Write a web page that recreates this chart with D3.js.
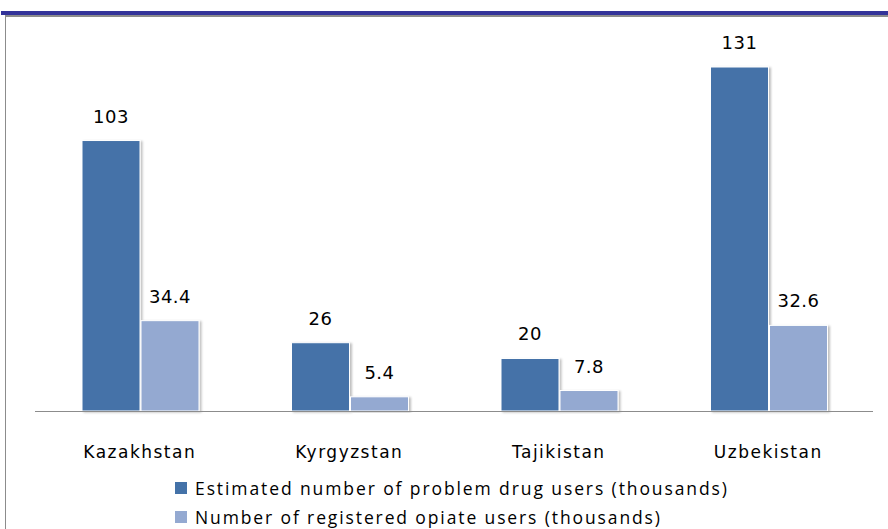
<!DOCTYPE html>
<html>
<head>
  <meta charset="UTF-8">
  <title>Drug users in Central Asia</title>
  <script src="https://d3js.org/d3.v7.min.js"></script>
  <style>
    body { margin: 0; background: #fff; }
    .val { font-family: "DejaVu Sans", sans-serif; font-size: 18px; fill: #000; letter-spacing: 0.5px; }
    .cat { font-family: "DejaVu Sans", sans-serif; font-size: 17px; fill: #000; letter-spacing: 1.5px; }
    .leg { font-family: "Open Sans", sans-serif; font-size: 17.5px; fill: #000; }
  </style>
</head>
<body>
  <div id="chart"></div>
  <script>
    // data
    var countries = ["Kazakhstan", "Kyrgyzstan", "Tajikistan", "Uzbekistan"];
    var seriesNames = ["Estimated number of problem drug users (thousands)",
                       "Number of registered opiate users (thousands)"];
    var estimated = [103, 26, 20, 131];
    var registered = [34.4, 5.4, 7.8, 32.6];
    var labelsEst = ["103", "26", "20", "131"];
    var labelsReg = ["34.4", "5.4", "7.8", "32.6"];
    var colors = ["#4472a8", "#94a9d1"];

    var W = 888, H = 529;
    var svg = d3.select("#chart").append("svg")
      .attr("width", W).attr("height", H);

    var defs = svg.append("defs");
    var f = defs.append("filter").attr("id", "shadow")
      .attr("x", "-10%").attr("y", "-10%").attr("width", "130%").attr("height", "120%");
    f.append("feDropShadow").attr("dx", 2).attr("dy", 1).attr("stdDeviation", 1.2)
      .attr("flood-color", "#000").attr("flood-opacity", 0.25);

    // frame decoration
    svg.append("rect").attr("x", 1).attr("y", 11).attr("width", W - 1).attr("height", 4).attr("fill", "#333399");
    svg.append("rect").attr("x", 5).attr("y", 15).attr("width", W - 5).attr("height", 2).attr("fill", "#8c8c8c");
    svg.append("line").attr("x1", 5.5).attr("x2", 5.5).attr("y1", 17).attr("y2", H).attr("stroke", "#8c8c8c");

    var x = d3.scaleBand().domain(countries).range([35, 873]).padding(0);
    var xs = d3.scaleBand().domain([0, 1]).range([46.5, 164.5]).padding(0);
    var y = d3.scaleLinear().domain([0, 131]).range([411, 67]);

    var rows = countries.map(function (c, i) {
      return [
        { c: c, s: 0, v: estimated[i], t: labelsEst[i] },
        { c: c, s: 1, v: registered[i], t: labelsReg[i] }
      ];
    });

    var g = svg.selectAll(".grp").data(rows).enter().append("g")
      .attr("class", "grp")
      .attr("transform", function (d) { return "translate(" + x(d[0].c) + ",0)"; });

    g.selectAll("rect").data(function (d) { return d; }).enter().append("rect")
      .attr("x", function (d) { return xs(d.s) + 0.5; })
      .attr("y", function (d) { return y(d.v); })
      .attr("width", xs.bandwidth() - 1)
      .attr("height", function (d) { return y(0) - y(d.v); })
      .attr("fill", function (d) { return colors[d.s]; })
      .attr("stroke", "#fff").attr("stroke-width", 1)
      .attr("filter", "url(#shadow)");

    g.selectAll("text").data(function (d) { return d; }).enter().append("text")
      .attr("class", "val")
      .attr("x", function (d) { return xs(d.s) + xs.bandwidth() / 2; })
      .attr("y", function (d) { return y(d.v) - 18; })
      .attr("text-anchor", "middle")
      .text(function (d) { return d.t; });

    // axis
    var xAxis = svg.append("g").attr("transform", "translate(0,411)")
      .call(d3.axisBottom(x).tickSize(0).tickPadding(0));
    xAxis.select(".domain").attr("stroke", "#8c8c8c").attr("d", "M35,0.5H873");
    xAxis.selectAll("text").attr("class", "cat").attr("font-family", null).attr("font-size", null)
      .attr("y", 47).attr("dy", null).attr("fill", "#000");

    // legend
    var legWidths = [532, 465];
    var leg = svg.selectAll(".legi").data(seriesNames).enter().append("g")
      .attr("class", "legi")
      .attr("transform", function (d, i) { return "translate(175," + (482 + i * 29) + ")"; });
    leg.append("rect").attr("width", 12).attr("height", 12)
      .attr("fill", function (d, i) { return colors[i]; });
    leg.append("text").attr("class", "leg").attr("x", 20).attr("y", 13 - 0.5 + 0)
      .attr("textLength", function (d, i) { return legWidths[i]; })
      .attr("lengthAdjust", "spacing")
      .text(function (d) { return d; });
  </script>
</body>
</html>
